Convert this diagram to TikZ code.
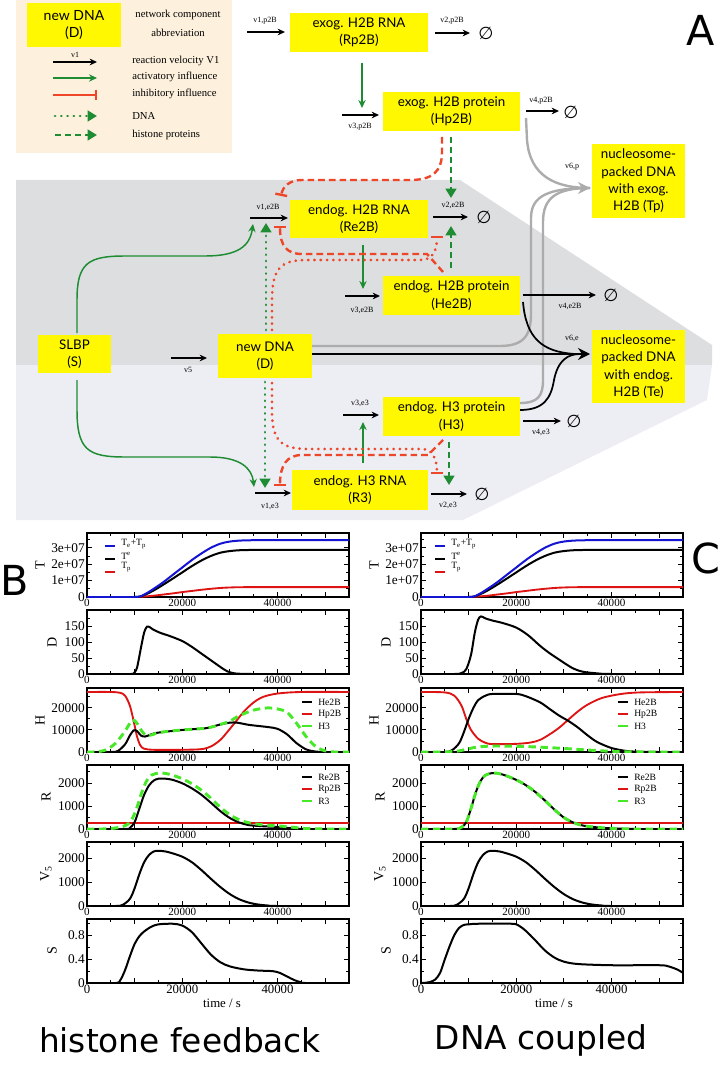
\documentclass[tikz,border=0pt]{standalone}
\usepackage{fontspec}
\setmainfont{Liberation Serif}
\newfontfamily\boxfont{Lato}
\newfontfamily\bigfont{DejaVu Sans}
\usetikzlibrary{arrows.meta}
\definecolor{boxyellow}{RGB}{255,248,0}
\definecolor{legbg}{RGB}{253,241,222}
\definecolor{upgray}{RGB}{221,222,224}
\definecolor{lowgray}{RGB}{237,237,244}
\definecolor{actgreen}{RGB}{30,140,50}
\definecolor{inhred}{RGB}{238,70,40}
\definecolor{conngray}{RGB}{172,172,172}
\definecolor{pblue}{RGB}{20,20,210}
\definecolor{pred}{RGB}{222,20,20}
\definecolor{pgreen}{RGB}{70,232,40}
\tikzset{
 ybox/.style={fill=boxyellow, inner sep=0pt, align=center, font=\boxfont\fontsize{10}{13}\selectfont},
 vel/.style={font=\fontsize{6}{7}\selectfont, inner sep=0pt},
 legtxt/.style={font=\fontsize{8}{9}\selectfont, inner sep=0pt, anchor=west},
 react/.style={line width=1.1pt, -{Stealth[length=5.5pt,width=5pt]}},
 act/.style={actgreen, line width=1.1pt, -{Stealth[length=6pt,width=5.5pt]}},
 inh/.style={inhred, line width=1.3pt, -{Bar[width=8pt,line width=1.5pt]}},
 dnaact/.style={actgreen, line width=2.1pt, dash pattern=on 0.1pt off 4.6pt, line cap=round, -{Triangle[length=7pt,width=8pt]}},
 hisact/.style={actgreen, line width=1.6pt, dash pattern=on 4.5pt off 3pt, -{Triangle[length=7pt,width=8pt]}},
 dnainh/.style={inhred, line width=2.2pt, dash pattern=on 0.1pt off 4.6pt, line cap=round, -{Bar[width=9pt,line width=1.8pt]}},
 hisinh/.style={inhred, line width=1.8pt, dash pattern=on 5pt off 3pt, -{Bar[width=9pt,line width=1.8pt]}},
 grayc/.style={conngray, line width=1.8pt},
 blackc/.style={black, line width=1.3pt},
 nul/.style={font=\bigfont\fontsize{13}{13}\selectfont, inner sep=0pt},
 ytl/.style={font=\fontsize{10}{10}\selectfont, inner sep=0pt, anchor=east},
 xtl/.style={font=\fontsize{8.3}{9}\selectfont, inner sep=0pt, anchor=north},
 xtlb/.style={font=\fontsize{9.6}{10}\selectfont, inner sep=0pt, anchor=north},
 axl/.style={font=\fontsize{10.5}{11}\selectfont, inner sep=0pt, rotate=90},
 pleg/.style={font=\fontsize{7.2}{8}\selectfont, inner sep=0pt, anchor=west},
 pk/.style={black, line width=1.5pt},
 pr/.style={pred, line width=1.4pt},
 pb/.style={pblue, line width=1.5pt},
 pg/.style={pgreen, line width=2.2pt, dash pattern=on 5.5pt off 3.5pt},
 big/.style={font=\bigfont\fontsize{31}{31}\selectfont, inner sep=0pt},
 bottomlab/.style={font=\bigfont\fontsize{24.6}{26}\selectfont, inner sep=0pt},
}
\newcommand\pframe[3]{%
  \draw[line width=0.9pt] (#1,#2) rectangle ++(262,64);
  \foreach \i in {1,...,10}{%
    \pgfmathsetmacro\tx{#1+\i*23.818}%
    \pgfmathsetmacro\tl{isodd(\i)?3:5}%
    \draw[line width=0.7pt] (\tx,#2+64) -- ++(0,-\tl) (\tx,#2) -- ++(0,\tl);
  }%
  \foreach \k in {1,...,14}{%
    \pgfmathsetmacro\ty{#2+64-\k*#3}%
    \pgfmathsetmacro\tl{isodd(\k)?3:5}%
    \pgfmathtruncatemacro\ok{\ty>#2+2}%
    \ifnum\ok=1 \draw[line width=0.7pt] (#1,\ty) -- ++(\tl,0) (#1+262,\ty) -- ++(-\tl,0);\fi
  }%
}
\newcommand\pxlab[3]{%
  \node[xtl] (#3a) at (#1,#2+66) {0};
  \node[xtl] (#3b) at (#1+95.27,#2+66) {20000};
  \node[xtl] (#3c) at (#1+190.5,#2+66) {40000};
}
\newcommand\pxlabb[3]{%
  \node[xtlb] (#3a) at (#1,#2+66) {0};
  \node[xtlb] (#3b) at (#1+95.27,#2+66) {20000};
  \node[xtlb] (#3c) at (#1+190.5,#2+66) {40000};
}
\begin{document}
\begin{tikzpicture}[x=0.75pt,y=-0.75pt]
\useasboundingbox (0,0) rectangle (726,1066);
% ---------------- backgrounds
\fill[legbg] (16,0) rectangle (232,153);
\fill[upgray] (16,180) -- (460,180) -- (712,345) -- (712,365) -- (16,365) -- cycle;
\fill[lowgray] (16,365) -- (712,365) -- (707,400) -- (463,520) -- (16,520) -- cycle;
% ---------------- legend
\node[ybox, minimum width=94*0.75pt, minimum height=44*0.75pt, font=\boxfont\fontsize{10.5}{13}\selectfont] (legD) at (74,25) {new DNA\\(D)};
\node[font=\fontsize{8}{9}\selectfont, inner sep=0pt] (legt1) at (178,15) {network component};
\node[font=\fontsize{8}{9}\selectfont, inner sep=0pt] (legt2) at (178,33) {abbreviation};
\coordinate (lg1a) at (53,62); \coordinate (lg1b) at (97,62);
\coordinate (lg2a) at (53,78); \coordinate (lg2b) at (97,78);
\coordinate (lg3a) at (53,95); \coordinate (lg3b) at (97,95);
\coordinate (lg4a) at (55,116); \coordinate (lg4b) at (97,116);
\coordinate (lg5a) at (55,135); \coordinate (lg5b) at (97,135);
\draw[react] (lg1a) -- (lg1b);
\node[vel] (lgv1) at (75,55) {v1};
\draw[act] (lg2a) -- (lg2b);
\draw[inh] (lg3a) -- (lg3b);
\draw[dnaact] (lg4a) -- (lg4b);
\draw[hisact] (lg5a) -- (lg5b);
\node[legtxt] (lgl1) at (132,61) {reaction velocity V1};
\node[legtxt] (lgl2) at (132,77) {activatory influence};
\node[legtxt] (lgl3) at (132,94) {inhibitory influence};
\node[legtxt] (lgl4) at (132,116) {DNA};
\node[legtxt] (lgl5) at (132,135) {histone proteins};
% ---------------- coordinates for reactions
\coordinate (v1p2Ba) at (247,32); \coordinate (v1p2Bb) at (285,32);
\coordinate (v2p2Ba) at (435,33); \coordinate (v2p2Bb) at (470,33);
\coordinate (v3p2Ba) at (342,115); \coordinate (v3p2Bb) at (379,115);
\coordinate (v4p2Ba) at (526,111); \coordinate (v4p2Bb) at (559,111);
\coordinate (v1e2Ba) at (250,218); \coordinate (v1e2Bb) at (288,218);
\coordinate (v2e2Ba) at (433,217); \coordinate (v2e2Bb) at (468,217);
\coordinate (v3e2Ba) at (345,296); \coordinate (v3e2Bb) at (380,296);
\coordinate (v4e2Ba) at (523,295); \coordinate (v4e2Bb) at (596,295);
\coordinate (v5a) at (171,358); \coordinate (v5b) at (207,358);
\coordinate (v3e3a) at (343,415); \coordinate (v3e3b) at (379,415);
\coordinate (v4e3a) at (523,421); \coordinate (v4e3b) at (561,421);
\coordinate (v1e3a) at (255,493); \coordinate (v1e3b) at (291,493);
\coordinate (v2e3a) at (431,494); \coordinate (v2e3b) at (467,494);
% ---------------- gray connectors to Tp
\coordinate (TpIn) at (590,188);
\coordinate (TeIn) at (590,354);
\draw[grayc] (526,118) -- (527,140) .. controls (530,176) and (555,188) .. (TpIn);
\draw[grayc] (312,346) -- (500,346) .. controls (527,346) and (531,332) .. (531,312) -- (531,218) .. controls (531,196) and (548,188) .. (TpIn);
\draw[grayc] (520,403) .. controls (538,403) and (543,396) .. (543,380) -- (543,222) .. controls (543,198) and (556,188) .. (TpIn);
\draw[conngray, line width=1.8pt, -{Stealth[length=9pt,width=9pt,inset=3pt]}] (570,188) -- (TpIn);
% ---------------- black connectors to Te
\draw[blackc] (523,302) .. controls (526,338) and (542,352) .. (575,354);
\draw[blackc] (520,410) .. controls (544,410) and (551,398) .. (554,380) .. controls (558,360) and (568,354) .. (580,354);
\draw[blackc, -{Stealth[length=9pt,width=9pt,inset=3pt]}] (312,354) -- (TeIn);
% ---------------- reaction arrows
\draw[react] (v1p2Ba) -- (v1p2Bb);
\draw[react] (v2p2Ba) -- (v2p2Bb);
\draw[react] (v3p2Ba) -- (v3p2Bb);
\draw[react] (v4p2Ba) -- (v4p2Bb);
\draw[react] (v1e2Ba) -- (v1e2Bb);
\draw[react] (v2e2Ba) -- (v2e2Bb);
\draw[react] (v3e2Ba) -- (v3e2Bb);
\draw[react] (v4e2Ba) -- (v4e2Bb);
\draw[react] (v5a) -- (v5b);
\draw[react] (v3e3a) -- (v3e3b);
\draw[react] (v4e3a) -- (v4e3b);
\draw[react] (v1e3a) -- (v1e3b);
\draw[react] (v2e3a) -- (v2e3b);
\node[nul] (n1) at (486,33) {∅};
\node[nul] (n2) at (571,112) {∅};
\node[nul] (n3) at (484,217) {∅};
\node[nul] (n4) at (611,295) {∅};
\node[nul] (n5) at (574,421) {∅};
\node[nul] (n6) at (482,494) {∅};
\node[vel] (l1) at (265,21) {v1,p2B};
\node[vel] (l2) at (452,21) {v2,p2B};
\node[vel] (l3) at (360,127) {v3,p2B};
\node[vel] (l4) at (541,101) {v4,p2B};
\node[vel] (l5) at (268,207) {v1,e2B};
\node[vel] (l6) at (453,205) {v2,e2B};
\node[vel] (l7) at (362,310) {v3,e2B};
\node[vel] (l8) at (570,306) {v4,e2B};
\node[vel] (l9) at (572,167) {v6,p};
\node[vel] (l10) at (572,338) {v6,e};
\node[vel] (l11) at (188,370) {v5};
\node[vel] (l12) at (360,403) {v3,e3};
\node[vel] (l13) at (541,432) {v4,e3};
\node[vel] (l14) at (270,506) {v1,e3};
\node[vel] (l15) at (448,505) {v2,e3};
% ---------------- influences
\draw[act] (362,63) -- (362,108);
\draw[act] (363,245) -- (363,289);
\draw[act] (363,463) -- (363,422);
\draw[act] (77,333) -- (77,300) .. controls (77,263) and (88,256) .. (125,256) -- (205,256) .. controls (238,256) and (250,246) .. (253,224);
\draw[act] (77,380) -- (77,410) .. controls (77,450) and (88,457) .. (125,457) -- (210,457) .. controls (240,457) and (252,468) .. (254,487);
\draw[dnaact] (266,330) -- (266,223);
\draw[dnaact] (265,382) -- (265,488);
\draw[dnainh] (272,330) -- (272,300) .. controls (272,264) and (284,260) .. (310,260) -- (420,260) .. controls (432,260) and (437,252) .. (437,236);
\draw[dnainh] (272,383) -- (272,412) .. controls (272,444) and (284,449) .. (310,449) -- (422,449) .. controls (432,449) and (437,458) .. (437,474);
\draw[hisinh] (443,272) -- (427,254) -- (302,254) .. controls (287,254) and (280,246) .. (280,226);
\draw[hisinh] (443,440) -- (428,455) -- (302,455) .. controls (287,455) and (280,465) .. (280,486);
\draw[hisinh] (442,137) -- (442,152) .. controls (442,172) and (432,180) .. (410,180) -- (302,180) .. controls (290,180) and (283,186) .. (281,196);
\draw[hisact] (451,137) -- (451,198);
\draw[hisact] (451,268) -- (451,226);
\draw[hisact] (449,442) -- (449,485);
% ---------------- boxes
\node[ybox, minimum width=138*0.75pt, minimum height=39*0.75pt] (Rp2B) at (359,32.5) {exog. H2B RNA\\(Rp2B)};
\node[ybox, minimum width=137*0.75pt, minimum height=39*0.75pt] (Hp2B) at (451.5,111.5) {exog. H2B protein\\(Hp2B)};
\node[ybox, minimum width=138*0.75pt, minimum height=38*0.75pt] (Re2B) at (359,219) {endog. H2B RNA\\(Re2B)};
\node[ybox, minimum width=137*0.75pt, minimum height=39*0.75pt] (He2B) at (451.5,295.5) {endog. H2B protein\\(He2B)};
\node[ybox, minimum width=93*0.75pt, minimum height=74*0.75pt] (Tp) at (638.5,181) {nucleosome-\\packed DNA\\with exog.\\H2B (Tp)};
\node[ybox, minimum width=93*0.75pt, minimum height=73*0.75pt] (Te) at (638.5,366.5) {nucleosome-\\packed DNA\\with endog.\\H2B (Te)};
\node[ybox, minimum width=73*0.75pt, minimum height=38*0.75pt] (S) at (74.5,354) {SLBP\\(S)};
\node[ybox, minimum width=94*0.75pt, minimum height=44*0.75pt] (D) at (265,356) {new DNA\\(D)};
\node[ybox, minimum width=137*0.75pt, minimum height=39*0.75pt] (H3) at (451.5,416.5) {endog. H3 protein\\(H3)};
\node[ybox, minimum width=136*0.75pt, minimum height=40*0.75pt] (R3) at (360,490) {endog. H3 RNA\\(R3)};
\node[big] (labA) at (701,30) {A};
\node[big] (labB) at (15,580) {B};
\node[big] (labC) at (706,558) {C};
\node[bottomlab] (hf) at (180,1040) {histone feedback};
\node[bottomlab] (dc) at (541,1040) {DNA coupled};
% ================= PLOTS
\pframe{87}{533}{8.205}
\pframe{87}{610}{8}
\pframe{87}{688}{11.03}
\pframe{87}{765}{11.43}
\pframe{87}{842}{11.85}
\pframe{87}{919}{11.85}
\pframe{421}{533}{8.205}
\pframe{421}{610}{8}
\pframe{421}{688}{11.03}
\pframe{421}{765}{11.43}
\pframe{421}{842}{11.85}
\pframe{421}{919}{11.85}
\pxlab{87}{533}{bx1}\pxlab{87}{610}{bx2}\pxlab{87}{688}{bx3}\pxlab{87}{765}{bx4}\pxlab{87}{842}{bx5}\pxlabb{87}{919}{bx6}
\pxlab{421}{533}{cx1}\pxlab{421}{610}{cx2}\pxlab{421}{688}{cx3}\pxlab{421}{765}{cx4}\pxlab{421}{842}{cx5}\pxlabb{421}{919}{cx6}
\node[font=\fontsize{9.6}{10}\selectfont, inner sep=0pt] (btime) at (222,1003) {time / s};
\node[font=\fontsize{9.6}{10}\selectfont, inner sep=0pt] (ctime) at (554,1003) {time / s};
\foreach \c/\L in {b/85,c/419}{
 \node[ytl] (\c yT0) at (\L,597) {0};
 \node[ytl] (\c yT1) at (\L,580.6) {1e+07};
 \node[ytl] (\c yT2) at (\L,564.2) {2e+07};
 \node[ytl] (\c yT3) at (\L,547.8) {3e+07};
 \node[ytl] (\c yD0) at (\L,674) {0};
 \node[ytl] (\c yD1) at (\L,658) {50};
 \node[ytl] (\c yD2) at (\L,642) {100};
 \node[ytl] (\c yD3) at (\L,626) {150};
 \node[ytl] (\c yH0) at (\L,752) {0};
 \node[ytl] (\c yH1) at (\L,729.9) {10000};
 \node[ytl] (\c yH2) at (\L,707.9) {20000};
 \node[ytl] (\c yR0) at (\L,829) {0};
 \node[ytl] (\c yR1) at (\L,806.1) {1000};
 \node[ytl] (\c yR2) at (\L,783.3) {2000};
 \node[ytl] (\c yV0) at (\L,906) {0};
 \node[ytl] (\c yV1) at (\L,882.3) {1000};
 \node[ytl] (\c yV2) at (\L,858.6) {2000};
 \node[ytl] (\c yS0) at (\L,983) {0};
 \node[ytl] (\c yS1) at (\L,959.3) {0.4};
 \node[ytl] (\c yS2) at (\L,935.6) {0.8};
}
\foreach \c/\X in {b/40,c/374}{
 \node[axl] (\c aT) at (\X,565) {T};
 \node[axl] (\c aD) at (\X+12,642) {D};
 \node[axl] (\c aH) at (\X,720) {H};
 \node[axl] (\c aR) at (\X+6,797) {R};
 \node[axl] (\c aV) at (\X+6,874) {V\textsubscript{5}};
 \node[axl] (\c aS) at (\X+12,951) {S};
}
\foreach \L in {87,421}{
\begin{scope}[shift={(\L,597)}, xscale=262/55, yscale=-64/3.9]
 \clip (0,0) rectangle (55,3.9);
 \draw[pr] plot[smooth,tension=0.5] coordinates {(0,0) (10,0) (12,0.03) (14,0.08) (16,0.15) (18,0.22) (20,0.3) (22,0.37) (24,0.44) (26,0.5) (28,0.55) (30,0.58) (34,0.6) (55,0.6)};
 \draw[pk] plot[smooth,tension=0.5] coordinates {(0,0) (10,0) (12,0.12) (14,0.4) (16,0.75) (18,1.12) (20,1.5) (22,1.88) (24,2.22) (26,2.5) (28,2.7) (30,2.8) (33,2.86) (40,2.87) (55,2.87)};
 \draw[pb] plot[smooth,tension=0.5] coordinates {(0,0) (10,0) (12,0.15) (14,0.5) (16,0.9) (18,1.35) (20,1.8) (22,2.25) (24,2.65) (26,3.0) (28,3.25) (30,3.38) (33,3.45) (40,3.47) (55,3.47)};
\end{scope}
}
\foreach \c/\lx in {b/105,c/435}{
 \draw[pb, line width=1.4pt] (\lx,546) -- (\lx+10,546);
 \draw[pk, line width=1.4pt] (\lx,559) -- (\lx+10,559);
 \draw[pr, line width=1.4pt] (\lx,572) -- (\lx+10,572);
 \node[pleg] (\c lgT1) at (\lx+16,544) {T\textsubscript{e}+T\textsubscript{p}};
 \node[pleg] (\c lgT2) at (\lx+16,556) {T\textsuperscript{e}};
 \node[pleg] (\c lgT3) at (\lx+16,567) {T\textsubscript{p}};
}
\begin{scope}[shift={(87,674)}, xscale=262/55, yscale=-64/200]
 \clip (0,0) rectangle (55,200);
 \draw[pk] plot[smooth,tension=0.5] coordinates {(0,0) (9,0) (9.8,2) (10.5,20) (11.3,80) (12,130) (12.6,148) (13.2,146) (14,138) (15.5,128) (17.5,118) (20,103) (22,85) (24,64) (26,43) (28,22) (29.5,8) (31,2) (33,0.3) (36,0) (55,0)};
\end{scope}
\begin{scope}[shift={(421,674)}, xscale=262/55, yscale=-64/200]
 \clip (0,0) rectangle (55,200);
 \draw[pk] plot[smooth,tension=0.5] coordinates {(0,0) (7,0) (8.5,3) (9.5,15) (10.5,60) (11.3,130) (12,170) (12.6,180) (13.5,174) (15,167) (17,160) (20,145) (22.5,121) (25,88) (27,65) (29,45) (30,35) (32,17) (34,7) (37,2) (40,0) (55,0)};
\end{scope}
\begin{scope}[shift={(87,752)}, xscale=262/55, yscale=-64/29]
 \clip (0,0) rectangle (55,29);
 \draw[pr] plot[smooth,tension=0.5] coordinates {(0,27.2) (5,27.2) (7,26.8) (8,25.5) (9,21) (9.8,14) (10.5,7) (11.2,3) (12,1.5) (14,1) (20,1) (24,1.3) (26,2.5) (28,5.5) (30,10.5) (31.5,14.5) (33,18.5) (35,22.5) (37,25) (40,26.5) (45,27.2) (55,27.2)};
 \draw[pk] plot[smooth,tension=0.5] coordinates {(0,0) (5,0) (6.5,0.5) (8,3.5) (9,7.5) (9.8,9.8) (10.5,9.5) (11.3,7.5) (12.2,7) (13.5,8) (15,8.8) (20,10) (25,10.8) (28,12.5) (30,13.3) (31.5,13.3) (34,12.3) (38,11.3) (40,10.5) (42,8) (44,4) (46,1.2) (48,0.2) (50,0) (55,0)};
 \draw[pg] plot[smooth,tension=0.5] coordinates {(0,0) (2,0.1) (4,1) (6,4) (8,9.5) (9.5,14.5) (10.5,13) (11.5,9.5) (12.5,7.5) (14,8) (15,8.8) (20,10) (25,10.8) (28,12.5) (30,14) (32,16.5) (35,19) (38,20) (40,19.5) (42,18) (44,13) (46,7) (48,2.5) (50,0.5) (52,0) (55,0)};
\end{scope}
\begin{scope}[shift={(421,752)}, xscale=262/55, yscale=-64/29]
 \clip (0,0) rectangle (55,29);
 \draw[pr] plot[smooth,tension=0.5] coordinates {(0,27.2) (5,27) (7,25.5) (8.5,21) (9.5,15) (10.5,10) (12,6) (13.5,4.2) (15,3.6) (20,3.7) (23,4.3) (25,5.5) (27,8) (29,11) (31,14.8) (33,18.5) (35,21.5) (38,24.5) (42,26.3) (46,27) (55,27.2)};
 \draw[pk] plot[smooth,tension=0.5] coordinates {(0,0) (5,0) (6.5,0.8) (8,4) (9,9) (10,15) (11,20) (12,23.5) (13.5,25.5) (15,26.3) (20,26.3) (22,25.3) (25,22.5) (27,19.5) (29,16.5) (31,14) (33,11) (35,7.5) (37,4.5) (40,1.8) (43,0.5) (46,0.1) (50,0) (55,0)};
 \draw[pg] plot[smooth,tension=0.5] coordinates {(0,0) (5,0) (8,0.5) (10,1.5) (12,2.3) (15,2.7) (20,2.6) (25,2.2) (30,1.6) (35,0.9) (40,0.3) (45,0.05) (50,0) (55,0)};
\end{scope}
\foreach \c/\lx in {b/302,c/618}{
 \draw[pk, line width=1.4pt] (\lx,702) -- (\lx+10,702);
 \draw[pr, line width=1.4pt] (\lx,714) -- (\lx+10,714);
 \draw[pgreen, line width=2.2pt] (\lx,726) -- (\lx+10,726);
 \node[pleg] (\c lgH1) at (\lx+16,702) {He2B};
 \node[pleg] (\c lgH2) at (\lx+16,714) {Hp2B};
 \node[pleg] (\c lgH3) at (\lx+16,726) {H3};
 \draw[pk, line width=1.4pt] (\lx,777) -- (\lx+10,777);
 \draw[pr, line width=1.4pt] (\lx,789) -- (\lx+10,789);
 \draw[pgreen, line width=2.2pt] (\lx,801) -- (\lx+10,801);
 \node[pleg] (\c lgR1) at (\lx+16,777) {Re2B};
 \node[pleg] (\c lgR2) at (\lx+16,789) {Rp2B};
 \node[pleg] (\c lgR3) at (\lx+16,801) {R3};
}
\begin{scope}[shift={(87,829)}, xscale=262/55, yscale=-64/2.8]
 \clip (0,0) rectangle (55,2.8);
 \draw[pr] (0,0.28) -- (55,0.28);
 \draw[pk] plot[smooth,tension=0.5] coordinates {(0,0) (8,0) (9,0.05) (10,0.3) (11,0.9) (12,1.5) (13,1.9) (14,2.12) (15,2.2) (16.5,2.2) (18,2.15) (20,2.0) (22,1.78) (24,1.5) (26,1.15) (28,0.78) (30,0.48) (32,0.28) (34,0.17) (37,0.12) (40,0.09) (42,0.05) (44,0.01) (46,0) (55,0)};
 \draw[pg] plot[smooth,tension=0.5] coordinates {(0,0) (3,0) (5,0.02) (7,0.08) (8.5,0.2) (9.5,0.45) (10.5,0.95) (11.5,1.6) (12.5,2.1) (13.5,2.35) (15,2.45) (16.5,2.43) (18,2.35) (20,2.2) (22,1.98) (24,1.7) (26,1.35) (28,0.95) (30,0.62) (32,0.4) (34,0.27) (37,0.18) (40,0.14) (43,0.08) (46,0.02) (50,0) (55,0)};
\end{scope}
\begin{scope}[shift={(421,829)}, xscale=262/55, yscale=-64/2.8]
 \clip (0,0) rectangle (55,2.8);
 \draw[pr] (0,0.28) -- (55,0.28);
 \draw[pk] plot[smooth,tension=0.5] coordinates {(0,0) (7,0) (8.5,0.08) (9.5,0.3) (10.5,0.9) (11.5,1.6) (12.5,2.1) (13.5,2.35) (15,2.45) (16.5,2.42) (18,2.32) (20,2.15) (22,1.92) (24,1.62) (26,1.25) (28,0.85) (30,0.5) (32,0.28) (34,0.15) (37,0.07) (40,0.03) (45,0) (55,0)};
 \draw[pg] plot[smooth,tension=0.5] coordinates {(0,0) (7,0) (8.5,0.08) (9.5,0.3) (10.5,0.9) (11.5,1.6) (12.5,2.1) (13.5,2.35) (15,2.45) (16.5,2.42) (18,2.32) (20,2.15) (22,1.92) (24,1.62) (26,1.25) (28,0.85) (30,0.5) (32,0.28) (34,0.15) (37,0.07) (40,0.03) (45,0) (55,0)};
\end{scope}
\foreach \L in {87,421}{
\begin{scope}[shift={(\L,906)}, xscale=262/55, yscale=-64/2.7]
 \clip (0,0) rectangle (55,2.7);
 \draw[pk] plot[smooth,tension=0.5] coordinates {(0,0) (6,0) (7.5,0.05) (9,0.3) (10,0.75) (11,1.35) (12,1.85) (13,2.15) (14,2.3) (15,2.33) (16.5,2.3) (18,2.22) (20,2.08) (22,1.85) (24,1.52) (26,1.15) (28,0.8) (30,0.5) (32,0.28) (34,0.14) (36,0.06) (38,0.02) (40,0) (55,0)};
\end{scope}
}
\begin{scope}[shift={(87,983)}, xscale=262/55, yscale=-64/1.08]
 \clip (0,0) rectangle (55,1.08);
 \draw[pk] plot[smooth,tension=0.5] coordinates {(0,0) (6,0) (7,0.05) (8,0.22) (9,0.45) (10,0.66) (11,0.79) (12,0.87) (13.5,0.95) (15,0.99) (18,1.0) (20,0.97) (22,0.86) (24,0.67) (26,0.48) (28,0.35) (30,0.28) (33,0.23) (36,0.21) (39,0.2) (40.5,0.17) (42,0.11) (43.5,0.05) (45,0.01) (46,0) (55,0)};
\end{scope}
\begin{scope}[shift={(421,983)}, xscale=262/55, yscale=-64/1.08]
 \clip (0,0) rectangle (55,1.08);
 \draw[pk] plot[smooth,tension=0.5] coordinates {(0,0) (1,0.005) (2,0.02) (3,0.06) (4,0.17) (5,0.4) (6,0.62) (7,0.81) (8,0.93) (9,0.98) (10,0.99) (12,1.0) (19,1.0) (20.5,0.97) (22,0.88) (24,0.72) (26,0.55) (28,0.43) (30,0.36) (33,0.32) (40,0.3) (50,0.3) (52,0.28) (54,0.22) (55,0.17)};
\end{scope}
\end{tikzpicture}
\end{document}
